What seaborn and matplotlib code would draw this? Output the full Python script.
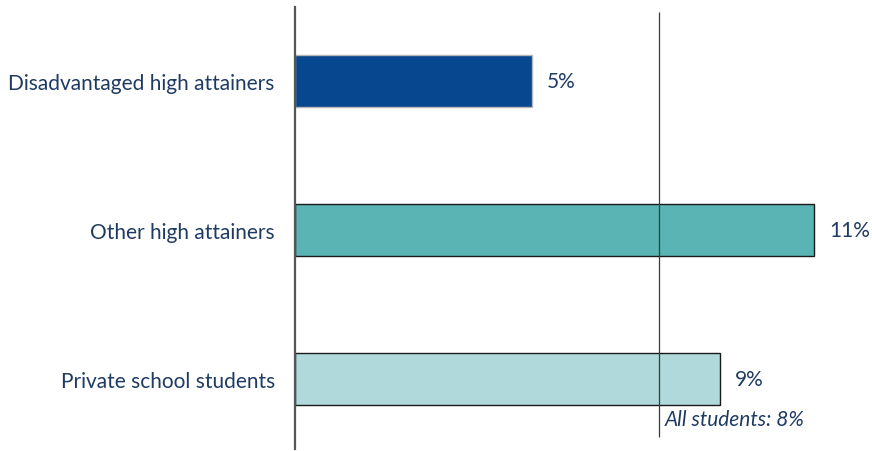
import pandas as pd
import numpy as np
import matplotlib.pyplot as plt
import seaborn as sns

# 数据
groups = ['Disadvantaged high attainers', 'Other high attainers', 'Private school students']
shares = [5.02, 11.0, 9.0]
bar_colors = ['#07478f', '#5ab4b4', '#afd9da']
edge_colors = ['#b5b5b5', '#1a1a1a', '#1a1a1a']
value_labels = ['5%', '11%', '9%']
all_students = 7.71
all_students_label = 'All students: 8%'

text_color = '#1f3b63'

sns.set_theme(style='white')
plt.rcParams['font.family'] = ['Lato', 'DejaVu Sans']

df = pd.DataFrame({'group': groups, 'share': shares})

fig = plt.figure(figsize=(8.72, 4.52), dpi=100)
ax = fig.add_axes([0.3383, 0.0044, 0.6617, 0.978])

sns.barplot(data=df, y='group', x='share', hue='group', palette=bar_colors,
            orient='h', width=0.35, saturation=1, legend=False, ax=ax)

for patch, ec in zip(ax.patches, edge_colors):
    patch.set_edgecolor(ec)
    patch.set_linewidth(1.0)

ax.set_xlim(0, 12.22)
ax.set_ylim(2.47, -0.5)

# 全体学生参考线
ax.vlines(all_students, -0.466, 2.386, color='#3a3a3a', linewidth=0.9, zorder=3)
ax.text(all_students + 0.12, 2.27, all_students_label, style='italic',
        fontsize=15, color=text_color, va='center', ha='left')

for i, (v, lab) in enumerate(zip(shares, value_labels)):
    ax.text(v + 0.32, i, lab, fontsize=15, color=text_color, va='center', ha='left')

ax.set_xlabel('')
ax.set_ylabel('')
ax.set_xticks([])
ax.tick_params(axis='y', length=0, pad=14.5, labelsize=15, labelcolor=text_color)
for s in ['top', 'right', 'bottom']:
    ax.spines[s].set_visible(False)
ax.spines['left'].set_color('#555555')
ax.spines['left'].set_linewidth(1.6)

fig.savefig('out.png', dpi=100)
